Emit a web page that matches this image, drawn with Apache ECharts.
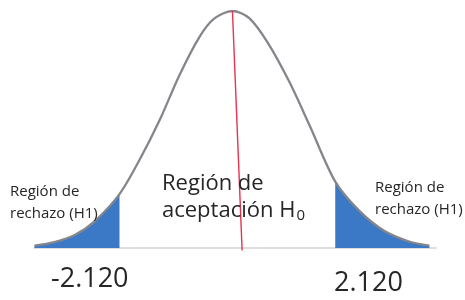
<!DOCTYPE html>
<html>
<head>
<meta charset="utf-8">
<script src="https://cdn.jsdelivr.net/npm/echarts@6/dist/echarts.min.js"></script>
<style>html,body{margin:0;padding:0;background:#fff}#c{width:465px;height:300px}</style>
</head>
<body>
<div id="c"></div>
<script>
// Curve (t-statistic units, density-like height)
var curveX = [-3.79,-3.40,-3.00,-2.61,-2.12,-1.73,-1.33,-0.94,-0.55,-0.26,0.10,0.43,0.79,1.22,1.61,2.12,2.59,3.08,3.57,3.97];
var curveY = [0.004,0.010,0.022,0.045,0.091,0.148,0.216,0.292,0.356,0.387,0.400,0.388,0.347,0.280,0.208,0.112,0.063,0.029,0.011,0.004];
var critValues = [-2.12, 2.12];
var critLabels = ['-2.120', '2.120'];
var meanLineX = [0.10, 0.29];
var meanLineY = [0.400, -0.004];
var sideLabel = ['Región de', 'rechazo (H1)'];
var centerLabel = ['Región de', 'aceptación H', '0'];

var curve = curveX.map(function (x, i) { return [x, curveY[i]]; });
var leftTail = curve.filter(function (p) { return p[0] <= critValues[0]; });
var rightTail = curve.filter(function (p) { return p[0] >= critValues[1]; });
var meanLine = meanLineX.map(function (x, i) { return [x, meanLineY[i]]; });

var FONT = '"Open Sans", sans-serif';
var TXT = '#262626';
var BLUE = '#3b79c6';

var chart = echarts.init(document.getElementById('c'), null, { renderer: 'canvas' });
chart.setOption({
  animation: false,
  grid: { left: 34, top: 11, width: 402, bottom: 52 },
  xAxis: {
    type: 'value', min: -3.8, max: 4.1,
    axisLine: { show: true, lineStyle: { color: '#d2d2d2', width: 1.5 } },
    axisTick: { show: false }, axisLabel: { show: false }, splitLine: { show: false }
  },
  yAxis: {
    type: 'value', min: 0, max: 0.4, show: false,
    splitLine: { show: false }
  },
  series: [
    { type: 'line', data: leftTail, smooth: 0.3, symbol: 'none',
      lineStyle: { width: 0 }, areaStyle: { color: BLUE, opacity: 1 }, z: 2 },
    { type: 'line', data: rightTail, smooth: 0.3, symbol: 'none',
      lineStyle: { width: 0 }, areaStyle: { color: BLUE, opacity: 1 }, z: 2 },
    { type: 'line', data: curve, smooth: 0.3, symbol: 'none',
      lineStyle: { color: '#85858c', width: 2.3 }, z: 3 },
    { type: 'line', data: meanLine, symbol: 'none', clip: false,
      lineStyle: { color: '#e8334f', width: 1.4 }, z: 4 }
  ],
  graphic: [
    { type: 'text', left: 10, top: 181, z: 10,
      style: { text: sideLabel.join('\n'), font: '15px ' + FONT, fill: TXT, lineHeight: 22 } },
    { type: 'text', left: 375, top: 177, z: 10,
      style: { text: sideLabel.join('\n'), font: '15px ' + FONT, fill: TXT, lineHeight: 22 } },
    { type: 'text', left: 162, top: 173, z: 10,
      style: { text: centerLabel[0], font: '22px ' + FONT, fill: TXT } },
    { type: 'text', left: 162, top: 198, z: 10,
      style: { text: '{a|' + centerLabel[1] + '}{s|' + centerLabel[2] + '}',
        rich: { a: { font: '22px ' + FONT, fill: TXT, lineHeight: 30 },
                s: { font: '15px ' + FONT, fill: TXT, lineHeight: 30, padding: [10, 0, 0, 1] } } } },
    { type: 'text', left: 51, top: 266, z: 10,
      style: { text: critLabels[0], font: '27px ' + FONT, fill: TXT } },
    { type: 'text', left: 334, top: 270, z: 10,
      style: { text: critLabels[1], font: '27px ' + FONT, fill: TXT } }
  ]
});
</script>
</body>
</html>
